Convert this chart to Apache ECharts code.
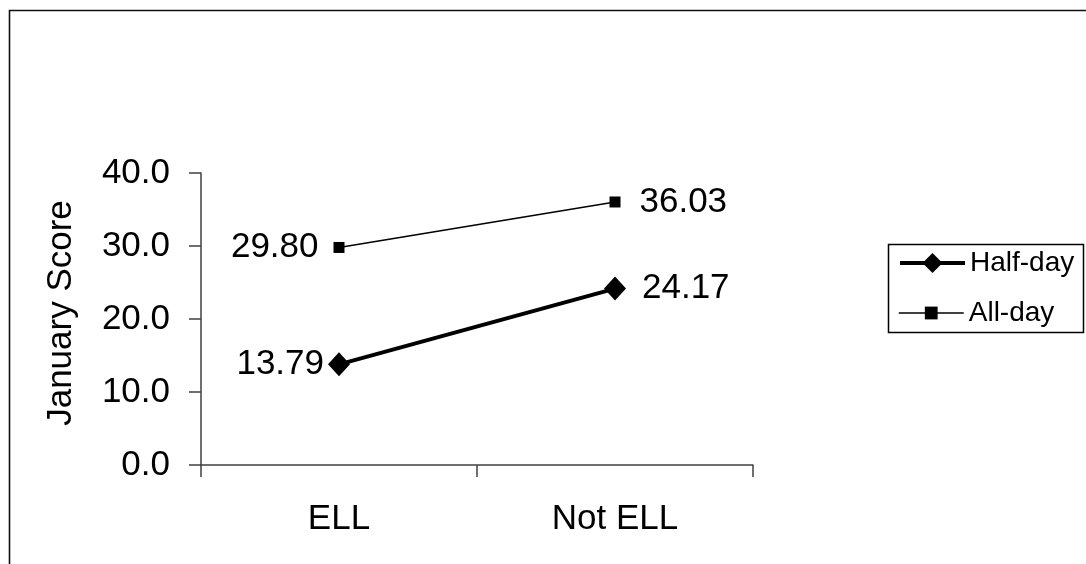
<!DOCTYPE html>
<html>
<head>
<meta charset="utf-8">
<script src="https://cdn.jsdelivr.net/npm/echarts@6/dist/echarts.min.js"></script>
<style>
  html, body { margin: 0; padding: 0; background: #fff; }
  #chart { width: 1086px; height: 564px; }
</style>
</head>
<body>
<div id="chart"></div>
<script>
// Mean January scores by language status and kindergarten schedule
const categories = ['ELL', 'Not ELL'];
const halfDay = [13.79, 24.17];
const allDay = [29.80, 36.03];
const seriesNames = ['Half-day', 'All-day'];
const yAxisTitle = 'January Score';
const yMin = 0;
const yMax = 40;
const yStep = 10;

const FONT = '"Liberation Sans", Arial, Helvetica, sans-serif';
const AXIS_COLOR = '#404040';
const HALF_WIDTH = 4;
const ALL_WIDTH = 1.5;

const chart = echarts.init(document.getElementById('chart'), null, { renderer: 'canvas' });

// value labels sit left of the first point and right of the second
function withLabels(values, distances) {
  return values.map((v, i) => ({
    value: v,
    label: { position: i === 0 ? 'left' : 'right', distance: distances[i] }
  }));
}

const labelStyle = {
  show: true,
  fontSize: 35,
  fontFamily: FONT,
  color: '#000',
  formatter: p => Number(p.value).toFixed(2)
};

const legendBase = {
  orient: 'vertical',
  left: 898,
  padding: 0,
  itemWidth: 65,
  itemGap: 0,
  selectedMode: false,
  textStyle: { fontSize: 28, fontFamily: FONT, color: '#000' }
};

chart.setOption({
  animation: false,
  backgroundColor: '#fff',
  grid: { left: 201, top: 173, right: 333, bottom: 99, containLabel: false },
  xAxis: {
    type: 'category',
    data: categories,
    boundaryGap: true,
    axisLine: { show: true, lineStyle: { color: AXIS_COLOR, width: 1.5 } },
    axisTick: { show: true, alignWithLabel: false, length: 12, lineStyle: { color: AXIS_COLOR, width: 1.5 } },
    axisLabel: { fontSize: 35, fontFamily: FONT, color: '#000', margin: 37 },
    splitLine: { show: false }
  },
  yAxis: {
    type: 'value',
    min: yMin,
    max: yMax,
    interval: yStep,
    axisLine: { show: true, lineStyle: { color: AXIS_COLOR, width: 1.5 } },
    axisTick: { show: true, length: 12, lineStyle: { color: AXIS_COLOR, width: 1.5 } },
    axisLabel: {
      fontSize: 35, fontFamily: FONT, color: '#000', margin: 31,
      formatter: v => v.toFixed(1)
    },
    splitLine: { show: false }
  },
  legend: [
    Object.assign({}, legendBase, {
      data: [seriesNames[0]], top: 249, itemHeight: 25,
      lineStyle: { width: HALF_WIDTH, color: '#000' }
    }),
    Object.assign({}, legendBase, {
      data: [seriesNames[1]], top: 299, itemHeight: 16,
      lineStyle: { width: ALL_WIDTH, color: '#000' }
    })
  ],
  series: [
    {
      name: seriesNames[0],
      type: 'line',
      data: withLabels(halfDay, [4, 16]),
      symbol: 'diamond',
      symbolSize: [22, 24],
      lineStyle: { color: '#000', width: HALF_WIDTH },
      itemStyle: { color: '#000' },
      label: labelStyle,
      z: 3
    },
    {
      name: seriesNames[1],
      type: 'line',
      data: withLabels(allDay, [15, 19]),
      symbol: 'rect',
      symbolSize: 11,
      lineStyle: { color: '#000', width: ALL_WIDTH },
      itemStyle: { color: '#000' },
      label: labelStyle,
      z: 3
    }
  ],
  graphic: [
    {
      type: 'rect',
      silent: true,
      shape: { x: 9.5, y: 10.5, width: 1200, height: 700 },
      style: { fill: 'none', stroke: '#111', lineWidth: 1.6 }
    },
    {
      type: 'rect',
      silent: true,
      shape: { x: 888.5, y: 244.5, width: 195, height: 88 },
      style: { fill: 'none', stroke: '#000', lineWidth: 1.5 }
    },
    {
      type: 'text',
      silent: true,
      x: 61,
      y: 313,
      rotation: Math.PI / 2,
      style: {
        text: yAxisTitle,
        fontSize: 35,
        fontFamily: FONT,
        fill: '#000',
        align: 'center',
        verticalAlign: 'middle'
      }
    }
  ]
});
</script>
</body>
</html>
